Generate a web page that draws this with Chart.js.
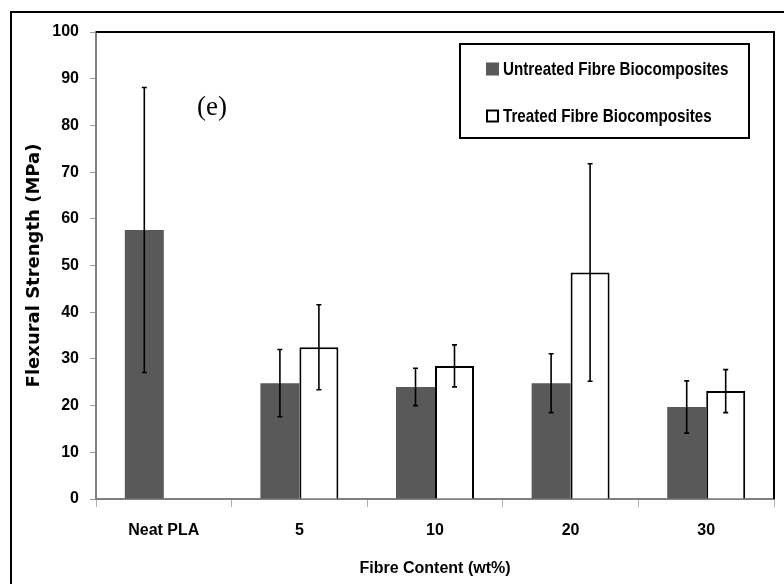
<!DOCTYPE html>
<html><head><meta charset="utf-8">
<script src="https://cdn.jsdelivr.net/npm/chart.js@4/dist/chart.umd.min.js"></script>
<style>html,body{margin:0;padding:0;background:#fff;overflow:hidden}</style>
</head><body>
<canvas id="c" width="784" height="584"></canvas>
<script>
const categories = ['Neat PLA', '5', '10', '20', '30'];
const seriesLabels = ['Untreated Fibre Biocomposites', 'Treated Fibre Biocomposites'];
const untreated = [57.6, 24.8, 24.0, 24.8, 19.7];
const untreatedErr = [30.5, 7.2, 4.0, 6.3, 5.6];
const treated = [null, 32.5, 28.5, 48.5, 23.1];
const treatedErr = [null, 9.1, 4.5, 23.3, 4.6];
const yTicks = [0, 10, 20, 30, 40, 50, 60, 70, 80, 90, 100];
const xTitle = 'Fibre Content (wt%)';
const yTitle = 'Flexural Strength (MPa)';
const panelLabel = '(e)';
const errors = [untreatedErr, treatedErr];

const SANS = '"Liberation Sans", Arial, sans-serif';

const framePlugin = {
  id: 'frame',
  beforeDraw(chart) {
    const ctx = chart.ctx;
    ctx.save();
    ctx.fillStyle = '#fff';
    ctx.fillRect(0, 0, chart.width, chart.height);
    ctx.strokeStyle = '#000';
    ctx.lineWidth = 2;
    ctx.beginPath();
    ctx.moveTo(11, chart.height + 2);
    ctx.lineTo(11, 12);
    ctx.lineTo(chart.width + 2, 12);
    ctx.stroke();
    ctx.restore();
  }
};

const errorBarPlugin = {
  id: 'errorBars',
  afterDatasetsDraw(chart) {
    const ctx = chart.ctx;
    const y = chart.scales.y;
    ctx.save();
    ctx.strokeStyle = '#000';
    ctx.lineWidth = 1.6;
    chart.data.datasets.forEach((ds, i) => {
      const meta = chart.getDatasetMeta(i);
      meta.data.forEach((bar, j) => {
        const v = ds.data[j];
        const e = errors[i][j];
        if (v == null || e == null) return;
        const yt = y.getPixelForValue(v + e);
        const yb = y.getPixelForValue(v - e);
        ctx.beginPath();
        ctx.moveTo(bar.x, yt); ctx.lineTo(bar.x, yb);
        ctx.moveTo(bar.x - 2.5, yt); ctx.lineTo(bar.x + 2.5, yt);
        ctx.moveTo(bar.x - 2.5, yb); ctx.lineTo(bar.x + 2.5, yb);
        ctx.stroke();
      });
    });
    ctx.restore();
  }
};

const decorPlugin = {
  id: 'decor',
  afterDraw(chart) {
    const ctx = chart.ctx;
    const a = chart.chartArea;
    ctx.save();
    // plot area top/right border
    ctx.strokeStyle = '#000';
    ctx.lineWidth = 2;
    ctx.beginPath();
    ctx.moveTo(a.left, a.top);
    ctx.lineTo(a.right, a.top);
    ctx.lineTo(a.right, a.bottom);
    ctx.stroke();
    // legend box
    const lx = 460, ly = 44, lw = 289, lh = 94;
    ctx.lineWidth = 2;
    ctx.strokeRect(lx, ly, lw, lh);
    ctx.font = 'bold 19px ' + SANS;
    ctx.textBaseline = 'middle';
    ctx.textAlign = 'left';
    const rows = [69, 116];
    const squeeze = 0.8;
    chart.data.datasets.forEach((ds, i) => {
      const cy = rows[i];
      if (i === 0) {
        ctx.fillStyle = ds.backgroundColor;
        ctx.fillRect(486, cy - 6.5, 13, 13);
      } else {
        ctx.fillStyle = '#fff';
        ctx.fillRect(487, cy - 5.5, 11, 11);
        ctx.strokeStyle = '#000';
        ctx.lineWidth = 2;
        ctx.strokeRect(487, cy - 5.5, 11, 11);
      }
      ctx.save();
      ctx.translate(503, cy + 1);
      ctx.scale(squeeze, 1);
      ctx.fillStyle = '#000';
      ctx.fillText(ds.label, 0, 0);
      ctx.restore();
    });
    // panel label
    ctx.font = '27px "Liberation Serif", "Times New Roman", serif';
    ctx.textAlign = 'center';
    ctx.fillStyle = '#000';
    ctx.fillText(panelLabel, 212, 108);
    ctx.restore();
  }
};

new Chart(document.getElementById('c'), {
  type: 'bar',
  data: {
    labels: categories,
    datasets: [
      { label: seriesLabels[0], data: untreated, backgroundColor: '#595959', borderWidth: 0,
        categoryPercentage: 0.575, barPercentage: 1.0 },
      { label: seriesLabels[1], data: treated, backgroundColor: '#ffffff', borderColor: '#000000',
        borderWidth: 2, categoryPercentage: 0.575, barPercentage: 1.0 }
    ]
  },
  options: {
    responsive: false,
    animation: false,
    layout: { padding: { left: 0, top: 32, right: 10, bottom: 0 } },
    plugins: { legend: { display: false }, tooltip: { enabled: false } },
    scales: {
      x: {
        grid: { display: true, drawOnChartArea: false, drawTicks: true, tickLength: 8, color: '#b0b0b0', offset: true },
        border: { color: '#808080', width: 2 },
        ticks: { color: '#000', padding: 14, font: { family: SANS, size: 16, weight: 'bold' } },
        title: { display: true, text: xTitle, color: '#000', padding: { top: 0, bottom: 6 },
          font: { family: SANS, size: 16, weight: 'bold' } },
        afterFit(s) { s.height = 85; }
      },
      y: {
        min: 0, max: 100,
        afterBuildTicks(s) { s.ticks = yTicks.map(v => ({ value: v })); },
        grid: { display: true, drawOnChartArea: false, drawTicks: true, tickLength: 6, color: '#a0a0a0' },
        border: { color: '#808080', width: 2 },
        ticks: { color: '#000', padding: 11, font: { family: SANS, size: 16, weight: 'bold' } },
        title: { display: true, text: yTitle, color: '#000', padding: { top: 24, bottom: 0 },
          font: { family: '"DejaVu Sans", sans-serif', size: 18, weight: 'bold' } },
        afterFit(s) { s.width = 96; }
      }
    }
  },
  plugins: [framePlugin, errorBarPlugin, decorPlugin]
});
</script>
</body></html>
